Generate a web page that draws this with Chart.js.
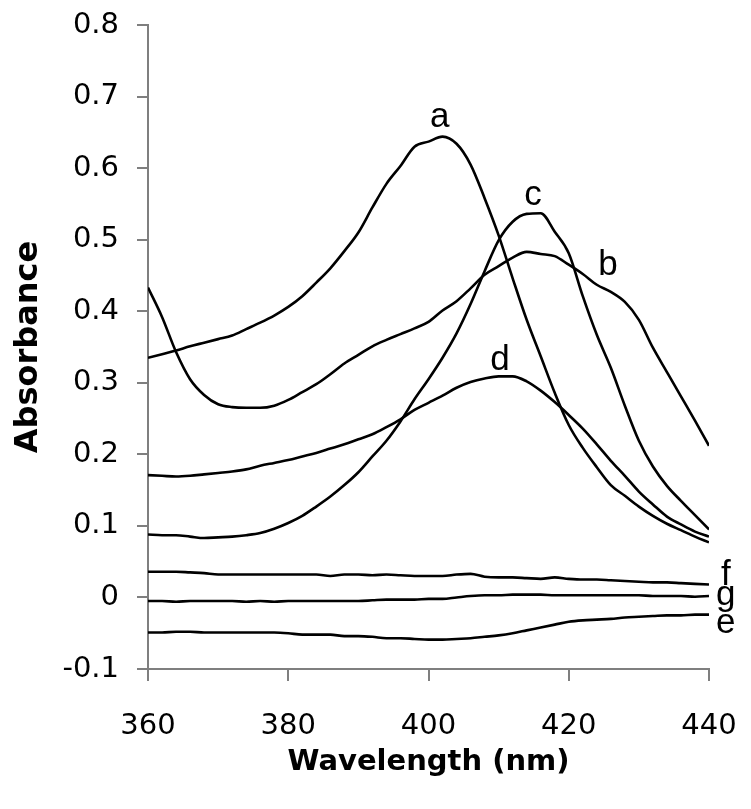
<!DOCTYPE html>
<html>
<head>
<meta charset="utf-8">
<script src="https://cdn.jsdelivr.net/npm/chart.js@4.4.1/dist/chart.umd.min.js"></script>
<style>
  html, body { margin: 0; padding: 0; background: #fff; }
  #wrap { width: 751px; height: 809px; position: relative; }
</style>
</head>
<body>
<div id="wrap"><canvas id="myChart"></canvas></div>
<script>
// wavelength grid (nm), 2 nm steps
const wavelength = [360, 362, 364, 366, 368, 370, 372, 374, 376, 378, 380, 382, 384, 386, 388, 390, 392, 394, 396, 398,
    400, 402, 404, 406, 408, 410, 412, 414, 416, 418, 420, 422, 424, 426, 428, 430, 432, 434, 436, 438, 440];

const curveA = [0.335, 0.340, 0.345, 0.351, 0.356, 0.361, 0.366, 0.375, 0.384, 0.394, 0.406, 0.421, 0.440, 0.460, 0.484, 0.510, 0.545, 0.578, 0.603, 0.630,
    0.637, 0.644, 0.634, 0.605, 0.558, 0.506, 0.446, 0.388, 0.337, 0.286, 0.241, 0.209, 0.182, 0.157, 0.142, 0.127, 0.114, 0.103, 0.094, 0.085, 0.077];
const curveB = [0.433, 0.392, 0.343, 0.305, 0.283, 0.270, 0.266, 0.265, 0.265, 0.268, 0.276, 0.287, 0.298, 0.312, 0.327, 0.339, 0.351, 0.360, 0.368, 0.376,
    0.385, 0.401, 0.414, 0.432, 0.451, 0.463, 0.475, 0.483, 0.480, 0.477, 0.465, 0.452, 0.437, 0.427, 0.413, 0.388, 0.349, 0.315, 0.281, 0.247, 0.212];
const curveC = [0.088, 0.087, 0.087, 0.085, 0.083, 0.084, 0.085, 0.087, 0.090, 0.096, 0.104, 0.114, 0.127, 0.141, 0.157, 0.175, 0.197, 0.219, 0.246, 0.277,
    0.305, 0.335, 0.369, 0.410, 0.456, 0.499, 0.525, 0.536, 0.537, 0.511, 0.481, 0.421, 0.367, 0.321, 0.268, 0.219, 0.183, 0.156, 0.135, 0.115, 0.095];
const curveD = [0.171, 0.170, 0.169, 0.170, 0.172, 0.174, 0.176, 0.179, 0.184, 0.188, 0.192, 0.197, 0.202, 0.208, 0.214, 0.221, 0.228, 0.238, 0.249, 0.262,
    0.272, 0.282, 0.293, 0.301, 0.306, 0.309, 0.309, 0.302, 0.289, 0.273, 0.255, 0.236, 0.214, 0.191, 0.170, 0.148, 0.130, 0.113, 0.102, 0.092, 0.085];
const curveE = [-0.049, -0.049, -0.048, -0.048, -0.049, -0.049, -0.049, -0.049, -0.049, -0.049, -0.050, -0.052, -0.052, -0.052, -0.054, -0.054, -0.055, -0.057, -0.057, -0.058,
    -0.059, -0.059, -0.058, -0.057, -0.055, -0.053, -0.050, -0.046, -0.042, -0.038, -0.034, -0.032, -0.031, -0.030, -0.028, -0.027, -0.026, -0.025, -0.025, -0.024, -0.024];
const curveF = [0.036, 0.036, 0.036, 0.035, 0.034, 0.032, 0.032, 0.032, 0.032, 0.032, 0.032, 0.032, 0.032, 0.030, 0.032, 0.032, 0.031, 0.032, 0.031, 0.030,
    0.030, 0.030, 0.032, 0.033, 0.029, 0.028, 0.028, 0.027, 0.026, 0.028, 0.026, 0.025, 0.025, 0.024, 0.023, 0.022, 0.021, 0.021, 0.020, 0.019, 0.018];
const curveG = [-0.005, -0.005, -0.006, -0.005, -0.005, -0.005, -0.005, -0.006, -0.005, -0.006, -0.005, -0.005, -0.005, -0.005, -0.005, -0.005, -0.004, -0.003, -0.003, -0.003,
    -0.002, -0.002, 0.000, 0.002, 0.003, 0.003, 0.004, 0.004, 0.004, 0.003, 0.003, 0.003, 0.003, 0.003, 0.003, 0.003, 0.002, 0.002, 0.002, 0.001, 0.002];

const seriesNames = ["a", "b", "c", "d", "e", "f", "g"];
const seriesValues = [curveA, curveB, curveC, curveD, curveE, curveF, curveG];

// where each curve letter sits (wavelength, absorbance at text baseline)
const labelWavelength = [401.6, 425.6, 414.9, 410.2, 442.4, 442.4, 442.4];
const labelAbsorbance = [0.657, 0.451, 0.549, 0.318, -0.049, 0.018, -0.011];

const xTicks = [360, 380, 400, 420, 440];

const tickFont = {family: "'DejaVu Sans', sans-serif", size: 29};
const axisGray = "#7f7f7f";

const curveLetters = {
    id: "curveLetters",
    afterDatasetsDraw(chart) {
        const {ctx, scales} = chart;
        ctx.save();
        ctx.fillStyle = "#000";
        ctx.font = "35px 'Liberation Sans', Arial, sans-serif";
        ctx.textAlign = "center";
        ctx.textBaseline = "alphabetic";
        seriesNames.forEach((name, i) => {
            ctx.fillText(name,
                scales.x.getPixelForValue(labelWavelength[i]),
                scales.y.getPixelForValue(labelAbsorbance[i]));
        });
        ctx.restore();
    }
};

window.onload = () => {
    const ctx = document.getElementById("myChart").getContext("2d");

    const datasets = seriesNames.map((name, i) => ({
        label: name,
        data: wavelength.map((w, j) => ({x: w, y: seriesValues[i][j]})),
        borderColor: "#000",
        borderWidth: 2.6,
        pointRadius: 0,
        cubicInterpolationMode: "monotone",
        fill: false
    }));

    new Chart(ctx, {
        type: "line",
        data: {datasets},
        options: {
            responsive: true,
            maintainAspectRatio: false,
            animation: false,
            layout: {padding: {top: 25, right: 42, left: 0, bottom: 0}},
            plugins: {
                legend: {display: false},
                tooltip: {enabled: false}
            },
            scales: {
                x: {
                    type: "linear",
                    min: 360,
                    max: 440,
                    afterBuildTicks: (scale) => {
                        scale.ticks = xTicks.map(v => ({value: v}));
                    },
                    afterFit: (scale) => {
                        scale.height = 140;
                        scale.paddingLeft = 0;
                        scale.paddingRight = 0;
                    },
                    grid: {drawOnChartArea: false, drawTicks: true, tickLength: 12, color: axisGray, lineWidth: 2},
                    border: {display: true, color: axisGray, width: 2},
                    ticks: {color: "#000", font: tickFont, padding: 28, maxRotation: 0},
                    title: {
                        display: true,
                        text: "Wavelength (nm)",
                        color: "#000",
                        font: {family: "'DejaVu Sans', sans-serif", size: 29, weight: "bold"},
                        padding: {top: 0, bottom: 29}
                    }
                },
                y: {
                    min: -0.1,
                    max: 0.8,
                    afterFit: (scale) => {
                        scale.width = 148;
                        scale.paddingTop = 0;
                        scale.paddingBottom = 0;
                    },
                    grid: {drawOnChartArea: false, drawTicks: true, tickLength: 11, color: axisGray, lineWidth: 2},
                    border: {display: true, color: axisGray, width: 2},
                    ticks: {
                        stepSize: 0.1,
                        color: "#000",
                        font: tickFont,
                        padding: 18,
                        callback: v => String(Number(v.toFixed(1)))
                    },
                    title: {
                        display: true,
                        text: "Absorbance",
                        color: "#000",
                        font: {family: "'DejaVu Sans', sans-serif", size: 32, weight: "bold"},
                        padding: {top: 9, bottom: 0}
                    }
                }
            }
        },
        plugins: [curveLetters]
    });
};
</script>
</body>
</html>
